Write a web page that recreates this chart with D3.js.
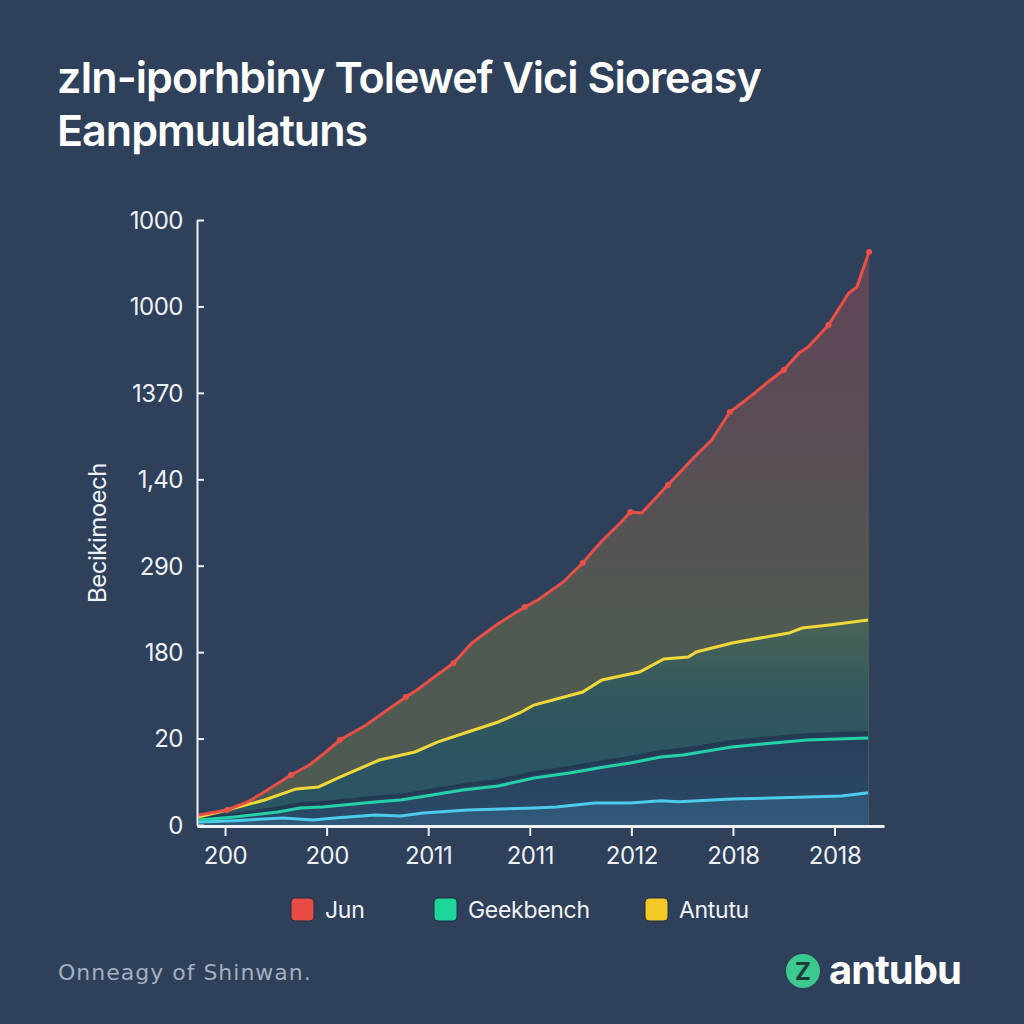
<!DOCTYPE html>
<html><head><meta charset="utf-8">
<script src="https://cdn.jsdelivr.net/npm/d3@7"></script>
<style>
html,body{margin:0;padding:0;background:#2e405a;}
svg{display:block;}
</style></head>
<body>
<svg id="chart" width="1024" height="1024"></svg>
<script>
// ---- data ----
const titleLines = ["zIn-iporhbiny Tolewef Vici Sioreasy", "Eanpmuulatuns"];
const yAxisTitle = "Becikimoech";
const xTickLabels = ["200", "200", "2011", "2011", "2012", "2018", "2018"];
const yTickLabels = ["0", "20", "180", "290", "1,40", "1370", "1000", "1000"];
const yTickValues = [0, 100, 200, 300, 400, 500, 600, 700];
const seriesNames = ["Jun", "Geekbench", "Antutu"];
const footerText = "Onneagy of Shinwan.";
const brandText = "antubu";

const junSeries = [
  [-0.26, 11.6], [0.02, 17.4], [0.22, 26.6], [0.37, 37.0], [0.65, 57.9], [0.83, 69.4],
  [0.98, 83.3], [1.13, 98.3], [1.39, 115.7], [1.57, 130.7], [1.78, 148.1], [1.89, 156.2],
  [2.06, 171.2], [2.25, 187.4], [2.43, 210.6], [2.67, 231.4], [2.95, 252.2], [3.08, 260.3],
  [3.33, 281.2], [3.52, 303.1], [3.70, 327.4], [3.90, 350.6], [3.99, 362.1], [4.10, 361.0],
  [4.25, 379.5], [4.36, 393.4], [4.62, 425.8], [4.79, 445.4], [4.97, 477.8], [5.19, 497.5],
  [5.37, 514.9], [5.50, 526.4], [5.65, 546.1], [5.74, 553.0], [5.94, 578.5], [6.14, 615.5],
  [6.22, 622.5], [6.34, 663.0]
];
const antutuSeries = [
  [-0.26, 9.3], [0.02, 17.4], [0.39, 28.9], [0.70, 41.7], [0.92, 44.0], [1.13, 55.5],
  [1.52, 75.2], [1.87, 84.5], [2.09, 96.0], [2.39, 107.6], [2.69, 119.2], [2.90, 129.6],
  [3.04, 138.8], [3.52, 153.9], [3.71, 167.8], [4.08, 177.0], [4.32, 192.1], [4.56, 194.4],
  [4.64, 200.2], [4.99, 210.6], [5.55, 222.1], [5.68, 227.9], [5.95, 231.4], [6.33, 237.2]
];
const geekbenchSeries = [
  [-0.26, 5.8], [0.09, 9.3], [0.52, 15.0], [0.74, 19.7], [0.96, 20.8], [1.48, 26.6],
  [1.73, 28.9], [2.04, 34.7], [2.34, 40.5], [2.69, 45.1], [3.04, 54.4], [3.39, 60.2],
  [3.73, 67.1], [3.99, 71.7], [4.29, 78.7], [4.51, 81.0], [4.99, 90.2], [5.29, 93.7],
  [5.73, 98.3], [6.33, 100.7]
];
const geekbenchShadow = [
  [-0.26, 7.5], [0.09, 11.5], [0.52, 19.0], [0.74, 24.0], [0.96, 25.5], [1.48, 31.5],
  [1.73, 34.0], [2.04, 40.0], [2.34, 46.0], [2.69, 51.0], [3.04, 60.0], [3.39, 66.0],
  [3.73, 73.0], [3.99, 77.5], [4.29, 84.5], [4.51, 87.0], [4.99, 96.0], [5.29, 99.5],
  [5.73, 104.0], [6.33, 106.5]
];
const baseSeries = [
  [-0.26, 3.5], [0.09, 5.0], [0.57, 8.1], [0.87, 5.8], [1.08, 8.1], [1.48, 11.6],
  [1.73, 10.4], [1.95, 13.9], [2.39, 17.4], [3.04, 19.7], [3.26, 20.8], [3.64, 25.5],
  [3.99, 25.5], [4.29, 28.1], [4.47, 27.0], [4.99, 30.1], [5.73, 32.4], [6.07, 33.6],
  [6.33, 37.4]
];
const legendColors = ["#e94b45", "#1ed69a", "#f5c925"];

// ---- drawing ----
const svg = d3.select("#chart");
svg.append("rect").attr("width", 1024).attr("height", 1024).attr("fill", "#2e405a");

const x = d3.scaleLinear().domain([-0.276, 6.487]).range([197, 884]);
const y = d3.scaleLinear().domain([0, 700]).range([825, 220]);

const defs = svg.append("defs");
function grad(id, stops, y1, y2) {
  const g = defs.append("linearGradient").attr("id", id)
    .attr("gradientUnits", "userSpaceOnUse").attr("x1", 0).attr("x2", 0).attr("y1", y1).attr("y2", y2);
  stops.forEach(s => g.append("stop").attr("offset", s[0]).attr("stop-color", s[1]));
}
grad("gRed", [[0, "#624458"], [0.5, "#594e56"], [1, "#4f5b50"]], 250, 640);
grad("gYel", [[0, "#4a6457"], [0.5, "#33595d"], [1, "#2c5563"]], 620, 760);
grad("gTeal", [[0, "#283f5c"], [1, "#2b4a68"]], 740, 825);
grad("gBase", [[0, "#2e5574"], [1, "#30587a"]], 790, 825);

const areaGen = d3.area().x(d => x(d[0])).y0(y(0)).y1(d => y(d[1])).curve(d3.curveLinear);
const lineGen = d3.line().x(d => x(d[0])).y(d => y(d[1])).curve(d3.curveLinear);

const plot = svg.append("g");
plot.append("path").datum(junSeries).attr("d", areaGen).attr("fill", "url(#gRed)");
plot.append("path").datum(antutuSeries).attr("d", areaGen).attr("fill", "url(#gYel)");
plot.append("path").datum(geekbenchShadow).attr("d", areaGen).attr("fill", "url(#gTeal)");
plot.append("path").datum(baseSeries).attr("d", areaGen).attr("fill", "url(#gBase)");

plot.append("path").datum(geekbenchShadow).attr("d", lineGen).attr("fill", "none")
  .attr("stroke", "#223a54").attr("stroke-width", 4);
plot.append("path").datum(baseSeries).attr("d", lineGen).attr("fill", "none")
  .attr("stroke", "#4ccbea").attr("stroke-width", 3);
plot.append("path").datum(geekbenchSeries).attr("d", lineGen).attr("fill", "none")
  .attr("stroke", "#24d0a8").attr("stroke-width", 3);
plot.append("path").datum(antutuSeries).attr("d", lineGen).attr("fill", "none")
  .attr("stroke", "#f0d83a").attr("stroke-width", 3);
plot.append("path").datum(junSeries).attr("d", lineGen).attr("fill", "none")
  .attr("stroke", "#ea4f47").attr("stroke-width", 3);
plot.selectAll("circle.jd").data(junSeries.filter((d, i) => i % 3 === 1)).enter()
  .append("circle").attr("class", "jd").attr("cx", d => x(d[0])).attr("cy", d => y(d[1]))
  .attr("r", 3).attr("fill", "#ea4f47");

// axes
const axisColor = "#eef2f6";
const tickFont = "Inter, 'Open Sans', sans-serif";
const yAxis = d3.axisLeft(y).tickValues(yTickValues)
  .tickFormat((d, i) => yTickLabels[i]).tickSizeInner(-7).tickSizeOuter(0).tickPadding(14);
const gy = svg.append("g").attr("transform", `translate(${x.range()[0]},0)`).call(yAxis);
gy.select(".domain").attr("stroke", axisColor).attr("stroke-width", 2);
gy.selectAll(".tick line").attr("stroke", axisColor).attr("stroke-width", 2);
gy.selectAll(".tick text").attr("fill", axisColor).attr("font-family", tickFont)
  .attr("font-size", 24).attr("letter-spacing", -0.5).attr("dy", "0.35em");

const xAxis = d3.axisBottom(x).tickValues(d3.range(xTickLabels.length))
  .tickFormat((d, i) => xTickLabels[i]).tickSizeInner(10).tickSizeOuter(0).tickPadding(11);
const gx = svg.append("g").attr("transform", `translate(0,${y(0) + 1})`).call(xAxis);
gx.select(".domain").attr("stroke", axisColor).attr("stroke-width", 3);
gx.selectAll(".tick line").attr("stroke", axisColor).attr("stroke-width", 2);
gx.selectAll(".tick text").attr("fill", axisColor).attr("font-family", tickFont)
  .attr("font-size", 24).attr("letter-spacing", -0.5).attr("dy", "0.71em");

// y axis title
svg.append("text").attr("transform", "translate(106,533) rotate(-90)")
  .attr("text-anchor", "middle").attr("fill", axisColor)
  .attr("font-family", tickFont).attr("font-size", 24).attr("letter-spacing", -0.5)
  .text(yAxisTitle);

// title
const titleBaselines = [93, 146];
svg.selectAll("text.title").data(titleLines).enter().append("text")
  .attr("class", "title").attr("x", 57).attr("y", (d, i) => titleBaselines[i])
  .attr("fill", "#ffffff").attr("font-family", "Inter, Roboto, sans-serif")
  .attr("font-weight", 600).attr("font-size", 43).attr("letter-spacing", -0.95)
  .text(d => d);

// legend
const legendX = [291, 434, 645];
const lg = svg.append("g");
seriesNames.forEach((name, i) => {
  lg.append("rect").attr("x", legendX[i]).attr("y", 898).attr("width", 23).attr("height", 23)
    .attr("rx", 4).attr("fill", legendColors[i]).attr("stroke", "#1e2e42").attr("stroke-width", 1);
  lg.append("text").attr("x", legendX[i] + 34).attr("y", 910).attr("dy", "0.35em")
    .attr("fill", "#f2f4f7").attr("font-family", tickFont)
    .attr("font-size", 23).attr("letter-spacing", -0.3).text(name);
});

// footer
svg.append("text").attr("x", 58).attr("y", 972).attr("dy", "0.35em")
  .attr("fill", "#a3afc0").attr("font-family", "'DejaVu Sans', sans-serif")
  .attr("font-size", 22).attr("letter-spacing", 1).text(footerText);

svg.append("circle").attr("cx", 803).attr("cy", 971).attr("r", 17).attr("fill", "#3cc98f");
svg.append("text").attr("x", 803).attr("y", 972).attr("dy", "0.35em").attr("text-anchor", "middle")
  .attr("fill", "#1d3a36").attr("font-family", "Inter, sans-serif").attr("font-weight", 700)
  .attr("font-size", 24).text("Z");
svg.append("text").attr("x", 829).attr("y", 970).attr("dy", "0.35em")
  .attr("fill", "#ffffff").attr("font-family", "Inter, Roboto, sans-serif").attr("font-weight", 700)
  .attr("font-size", 40).attr("letter-spacing", -1).text(brandText);
</script>
</body></html>
